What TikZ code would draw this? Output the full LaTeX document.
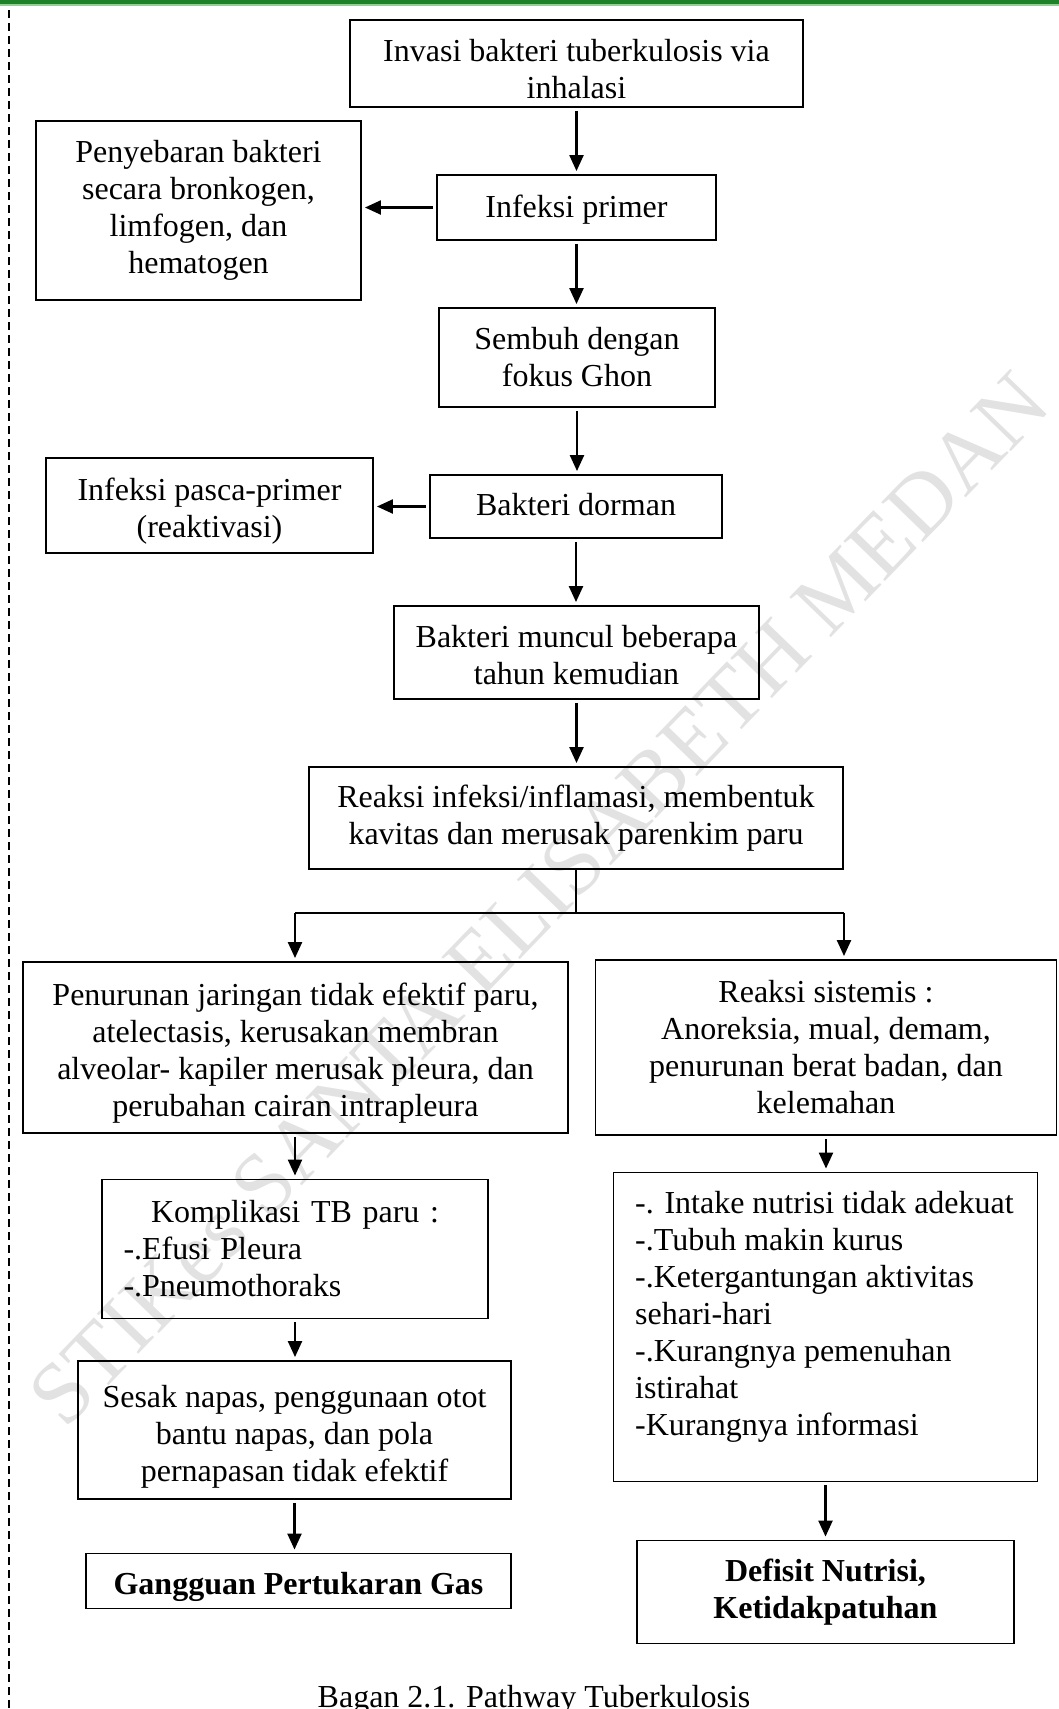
\documentclass[tikz,border=0pt]{standalone}
\usepackage{fontspec}
\setmainfont{Liberation Serif}
\usetikzlibrary{arrows.meta}
\definecolor{hdrgreen}{RGB}{30,130,40}
\definecolor{hdrlight}{RGB}{150,205,150}
\definecolor{wmgray}{RGB}{226,226,226}
\begin{document}
\begin{tikzpicture}[x=1pt,y=-1pt,
  box/.style={draw, line width=1.9pt, inner sep=0pt, align=center,
    font=\fontsize{32}{37}\selectfont},
  arr/.style={line width=2.3pt, -{Triangle[width=14pt,length=16pt]},
    shorten <=3pt, shorten >=3pt},
  link/.style={line width=2.3pt},
  txt/.style={inner sep=0pt, align=left, font=\fontsize{32}{37}\selectfont}
]
\useasboundingbox (0,0) rectangle (1059,1709);
% header and margin
\fill[hdrgreen] (0,0) rectangle (1059,4);
\fill[hdrlight] (0,4) rectangle (1059,6);
\draw[line width=1.4pt, dash pattern=on 8pt off 5pt] (9,10) -- (9,1709);
% watermark
\node[text=wmgray, rotate=46, font=\fontsize{88}{92}\selectfont] (wm) at (539,899) {STIKes SANTA ELISABETH MEDAN};

% boxes
\node[box, minimum width=453, minimum height=87] (b1) at (576.5,63.5) {\rule{0pt}{33pt}Invasi bakteri tuberkulosis via\\inhalasi};
\node[box, minimum width=279, minimum height=65] (b2) at (576.5,207.5) {\rule{0pt}{26pt}Infeksi primer};
\node[box, minimum width=325, minimum height=179] (b3) at (198.5,210.5) {Penyebaran bakteri\\secara bronkogen,\\limfogen, dan\\hematogen};
\node[box, minimum width=276, minimum height=99] (b4) at (577,357.5) {Sembuh dengan\\fokus Ghon};
\node[box, minimum width=292, minimum height=63] (b5) at (576,506.5) {Bakteri dorman\rule[-4pt]{0pt}{4pt}};
\node[box, minimum width=327, minimum height=95] (b6) at (209.5,505.5) {\rule{0pt}{33pt}Infeksi pasca-primer\\(reaktivasi)};
\node[box, minimum width=365, minimum height=93] (b7) at (576.5,652.5) {\rule{0pt}{28pt}Bakteri muncul beberapa\\tahun kemudian};
\node[box, minimum width=534, minimum height=102] (b8) at (576,818) {Reaksi infeksi/inflamasi, membentuk\\kavitas dan merusak parenkim paru};
\node[box, minimum width=545, minimum height=171] (b9) at (295.5,1047.5) {\rule{0pt}{33pt}Penurunan jaringan tidak efektif paru,\\atelectasis, kerusakan membran\\alveolar- kapiler merusak pleura, dan\\perubahan cairan intrapleura};
\node[box, minimum width=461, minimum height=175] (b10) at (826,1047.5) {Reaksi sistemis :\\Anoreksia, mual, demam,\\penurunan berat badan, dan\\kelemahan};
\node[box, minimum width=386, minimum height=139, text width=343pt, align=left] (b11) at (295,1249) {\makebox[343pt][c]{Komplikasi TB paru :}\\-.Efusi Pleura\\-.Pneumothoraks};
\node[box, minimum width=424, minimum height=309] (b12) at (825.5,1327) {};
\node[txt, anchor=north west] (b12t) at (635,1191) {-. Intake nutrisi tidak adekuat\\-.Tubuh makin kurus\\-.Ketergantungan aktivitas\\sehari-hari\\-.Kurangnya pemenuhan\\istirahat\\-Kurangnya informasi};
\node[box, minimum width=433, minimum height=138] (b13) at (294.5,1430) {\rule{0pt}{35pt}Sesak napas, penggunaan otot\\bantu napas, dan pola\\pernapasan tidak efektif};
\node[box, minimum width=425, minimum height=55, font=\fontsize{32}{37}\selectfont\bfseries] (b14) at (298.5,1581) {\rule{0pt}{35pt}Gangguan Pertukaran Gas};
\node[box, minimum width=377, minimum height=103, font=\fontsize{32}{37}\selectfont\bfseries] (b15) at (825.5,1592) {Defisit Nutrisi,\\Ketidakpatuhan};

% caption
\node[inner sep=0pt, anchor=base, font=\fontsize{32}{37}\selectfont] (cap) at (534,1707) {Bagan 2.1. Pathway Tuberkulosis};

% connectors
\draw[arr] (b1.south) -- (b1.south |- b2.north);
\draw[arr] (b2.west) -- (b2.west -| b3.east);
\draw[arr] (b2.south) -- (b2.south |- b4.north);
\draw[arr] (b4.south) -- (b4.south |- b5.north);
\draw[arr] (b5.west) -- (b5.west -| b6.east);
\draw[arr] (b5.south) -- (b5.south |- b7.north);
\draw[arr] (b7.south) -- (b7.south |- b8.north);
\coordinate (jL) at (295,913);
\coordinate (jR) at (844,913);
\draw[link] (b8.south) -- (b8.south |- jL);
\draw[link] (jL) -- (jR);
\draw[arr, shorten <=0pt] (jL) -- (jL |- b9.north);
\draw[arr, shorten <=0pt] (jR) -- (jR |- b10.north);
\draw[arr] (b9.south -| b11.north) -- (b11.north);
\draw[arr] (b11.south) -- (b11.south |- b13.north);
\draw[arr] (b13.south) -- (b13.south |- b14.north);
\draw[arr] (b10.south) -- (b10.south |- b12.north);
\draw[arr] (b12.south) -- (b12.south |- b15.north);
\end{tikzpicture}
\end{document}
